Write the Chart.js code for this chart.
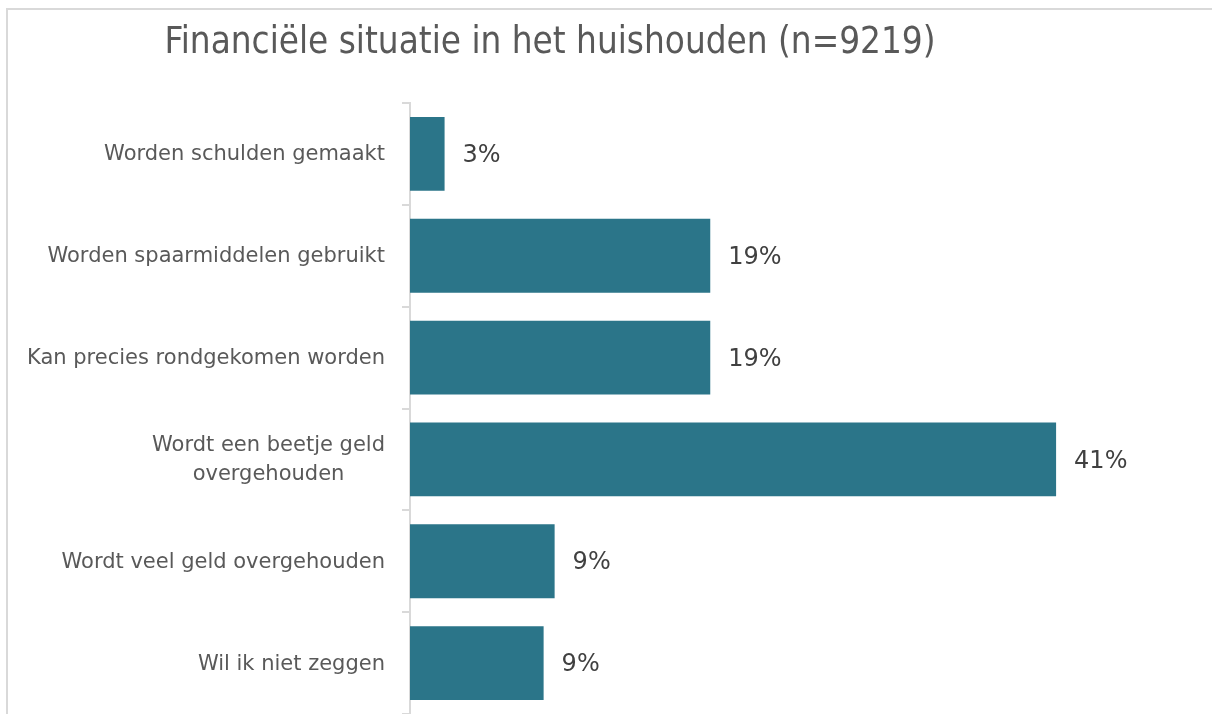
<!DOCTYPE html>
<html>
<head>
<meta charset="utf-8">
<script src="https://cdn.jsdelivr.net/npm/chart.js@4"></script>
<style>
  html, body { margin: 0; padding: 0; background: #fff; }
  #wrap { position: relative; width: 1212px; height: 714px; overflow: hidden; }
  #barChart { display: block; }
  #frame { position: absolute; left: 6px; top: 8px; width: 1300px; height: 800px;
           border-left: 2px solid #d9d9d9; border-top: 2px solid #d9d9d9; pointer-events: none; }
</style>
</head>
<body>
<div id="wrap">
  <canvas id="barChart" width="1212" height="714"></canvas>
  <div id="frame"></div>
</div>
<script>
const canvas = document.getElementById('barChart');

const titleText = "Financiële situatie in het huishouden (n=9219)";
const categories = [
  ["Worden schulden gemaakt"],
  ["Worden spaarmiddelen gebruikt"],
  ["Kan precies rondgekomen worden"],
  ["Wordt een beetje geld", "overgehouden"],
  ["Wordt veel geld overgehouden"],
  ["Wil ik niet zeggen"]
];
const values = [2.2, 19.1, 19.1, 41.1, 9.2, 8.5];
const valueLabels = ["3%", "19%", "19%", "41%", "9%", "9%"];
const barColor = "#2b7589";
const titleFont = "'DejaVu Sans Condensed', 'DejaVu Sans', sans-serif";
const labelFont = "'DejaVu Sans', sans-serif";

// title, category labels and value labels drawn by hand
const textPlugin = {
  id: 'textPlugin',
  afterDraw(chart) {
    const ctx = chart.ctx;
    const yScale = chart.scales.y;
    ctx.save();

    ctx.fillStyle = '#595959';
    ctx.font = '36.5px ' + titleFont;
    ctx.textAlign = 'center';
    ctx.textBaseline = 'alphabetic';
    ctx.fillText(titleText, 550, 53);

    ctx.font = '21px ' + labelFont;
    ctx.textBaseline = 'middle';
    categories.forEach(function (lines, i) {
      const y = yScale.getPixelForValue(i) + 1;
      let w = 0;
      lines.forEach(function (l) { w = Math.max(w, ctx.measureText(l).width); });
      const cx = 385 - w / 2;
      const lh = 29;
      const y0 = y - (lines.length - 1) * lh / 2;
      ctx.textAlign = 'center';
      lines.forEach(function (l, j) { ctx.fillText(l, cx, y0 + j * lh); });
    });

    ctx.fillStyle = '#404040';
    ctx.font = '24px ' + labelFont;
    ctx.textAlign = 'left';
    const meta = chart.getDatasetMeta(0);
    meta.data.forEach(function (bar, i) {
      ctx.fillText(valueLabels[i], bar.x + 18, bar.y + 2);
    });
    ctx.restore();
  }
};

const config = {
  type: 'bar',
  data: {
    labels: categories,
    datasets: [{
      data: values,
      backgroundColor: barColor,
      borderWidth: 0,
      categoryPercentage: 1,
      barPercentage: 0.725
    }]
  },
  options: {
    indexAxis: 'y',
    responsive: false,
    animation: false,
    layout: { padding: { top: 103, right: 16, bottom: 0, left: 0 } },
    plugins: {
      legend: { display: false },
      title: { display: false },
      tooltip: { enabled: false }
    },
    scales: {
      x: {
        display: false,
        min: 0,
        max: 50
      },
      y: {
        afterFit: function (s) { s.width = 410; },
        border: { display: true, color: '#d9d9d9', width: 2 },
        grid: {
          offset: true,
          drawOnChartArea: false,
          drawTicks: true,
          tickLength: 8,
          lineWidth: 2,
          color: '#d9d9d9'
        },
        ticks: { display: false }
      }
    }
  },
  plugins: [textPlugin]
};

const barChartObject = new Chart(canvas, config);
</script>
</body>
</html>
